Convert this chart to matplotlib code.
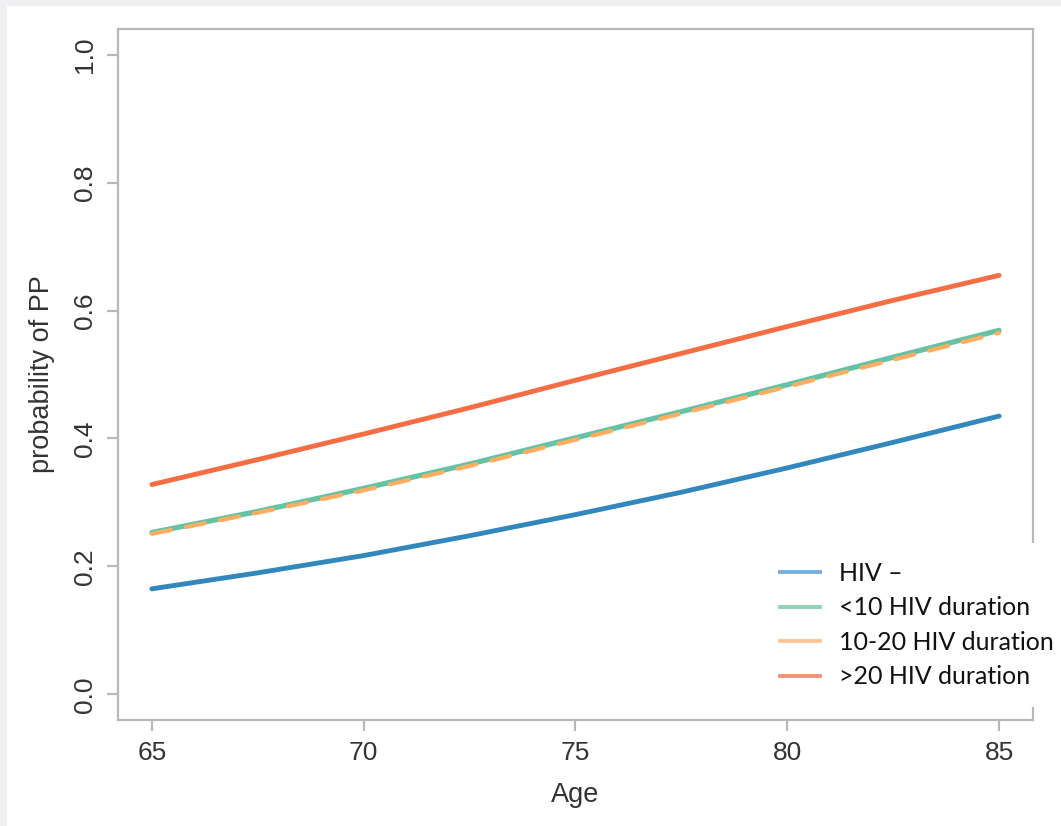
import matplotlib
matplotlib.use("Agg")
import matplotlib.pyplot as plt
from matplotlib.lines import Line2D
from matplotlib.patches import Rectangle

# ---- data ----
age = [65, 67.5, 70, 72.5, 75, 77.5, 80, 82.5, 85]
hiv_neg = [0.165, 0.190, 0.217, 0.248, 0.281, 0.316, 0.354, 0.394, 0.435]
dur_lt10 = [0.253, 0.286, 0.322, 0.360, 0.401, 0.442, 0.484, 0.527, 0.569]
dur_10_20 = [0.251, 0.284, 0.319, 0.357, 0.398, 0.439, 0.481, 0.523, 0.565]
dur_gt20 = [0.328, 0.367, 0.407, 0.448, 0.491, 0.533, 0.575, 0.616, 0.655]

labels = ["HIV \u2013", "<10 HIV duration", "10-20 HIV duration", ">20 HIV duration"]
xticks = [65, 70, 75, 80, 85]
yticks = [0.0, 0.2, 0.4, 0.6, 0.8, 1.0]
ytick_labels = ["0.0", "0.2", "0.4", "0.6", "0.8", "1.0"]

line_colors = ["#3288bd", "#66c2a5", "#fdae61", "#f46d43"]
legend_colors = ["#76aee0", "#8ed3b4", "#fcc69a", "#f5907a"]

plt.rcParams["lines.scale_dashes"] = False

W, H = 1061, 826
fig = plt.figure(figsize=(W / 100, H / 100), dpi=100)
fig.patch.set_facecolor("white")
# light grey strips at top and left edges
fig.add_artist(Rectangle((0, 1 - 6 / H), 1, 6 / H, transform=fig.transFigure,
                         facecolor="#eef0f2", edgecolor="none", zorder=0))
fig.add_artist(Rectangle((0, 0), 7 / W, 1, transform=fig.transFigure,
                         facecolor="#eef0f2", edgecolor="none", zorder=0))

left, right, top, bottom = 118, 1033, 29, 720
ax = fig.add_axes([left / W, (H - bottom) / H, (right - left) / W, (bottom - top) / H])

ax.plot(age, hiv_neg, color=line_colors[0], lw=3.5, solid_capstyle="round")
ax.plot(age, dur_lt10, color=line_colors[1], lw=3.8, solid_capstyle="round")
ax.plot(age, dur_10_20, color=line_colors[2], lw=3.0, dashes=(14, 11),
        dash_capstyle="round")
ax.plot(age, dur_gt20, color=line_colors[3], lw=3.5, solid_capstyle="round")

ax.set_xlim(64.2, 85.8)
ax.set_ylim(-0.04, 1.04)

spine_c = "#b8b8b8"
for s in ax.spines.values():
    s.set_color(spine_c)
    s.set_linewidth(1.6)

ax.set_xticks(xticks)
ax.set_xticklabels([str(x) for x in xticks])
ax.set_yticks(yticks)
ax.set_yticklabels(ytick_labels, rotation=90, va="center")
ax.tick_params(axis="both", colors=spine_c, width=1.6, length=8,
               labelcolor="#333333", labelsize=19)
ax.tick_params(axis="x", pad=7)
ax.tick_params(axis="y", pad=7)
for lab in ax.get_xticklabels() + ax.get_yticklabels():
    lab.set_fontfamily("Liberation Sans")

ax.set_xlabel("Age", fontsize=19.5, family="Liberation Sans", color="#333333", labelpad=12)
ax.set_ylabel("probability of PP", fontsize=19.5, family="Liberation Sans",
              color="#333333", labelpad=13)

handles = [Line2D([], [], color=c, lw=2.8) for c in legend_colors]
fs = 18
leg = ax.legend(handles, labels, loc="upper left",
                bbox_to_anchor=(761 / W, 1 - 543 / H), bbox_transform=fig.transFigure,
                frameon=True, facecolor="white", edgecolor="none", framealpha=1,
                fancybox=False, borderpad=0.75, borderaxespad=0,
                handlelength=1.6, handletextpad=0.76, labelspacing=0.46,
                prop={"family": "Lato", "size": fs})
leg.set_zorder(10)
for t in leg.get_texts():
    t.set_color("#111111")

fig.savefig("out.png", dpi=100)
